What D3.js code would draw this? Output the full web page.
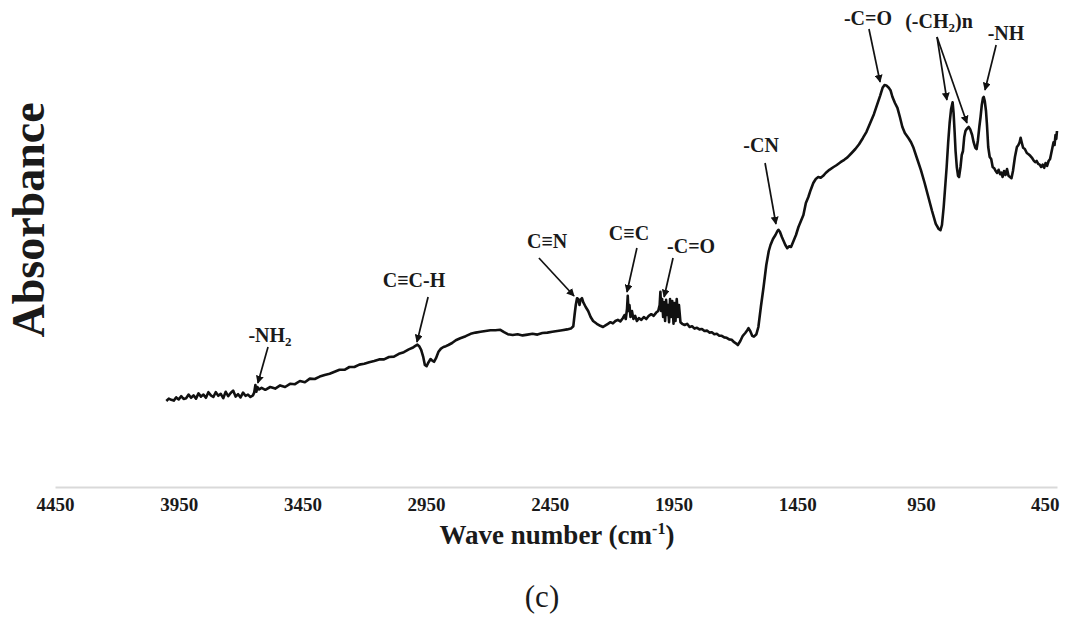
<!DOCTYPE html>
<html>
<head>
<meta charset="utf-8">
<script src="https://cdn.jsdelivr.net/npm/d3@7"></script>
<style>
  html, body { margin: 0; padding: 0; background: #fff; }
  svg { display: block; }
  text { font-family: "Liberation Serif", "Times New Roman", serif; fill: #1a1a1a; }
</style>
</head>
<body>
<script>
// FTIR spectrum: wavenumber (cm-1) and absorbance (a.u.)
const wavenumber = [
  4000,3990,3980,3970,3960,3950,3940,3930,3920,3910,3900,3890,3880,3870,3860,3850,3840,3830,3820,3810,
  3800,3790,3780,3770,3760,3750,3740,3730,3720,3710,3700,3690,3680,3670,3660,3650,3645,3640,3636,3632,
  3625,3615,3600,3580,3560,3540,3520,3500,3480,3460,3440,3420,3400,3380,3360,3340,3320,3300,3280,3260,
  3240,3220,3200,3180,3160,3140,3120,3100,3080,3060,3040,3020,3005,2995,2985,2978,2970,2962,2955,2948,
  2940,2932,2925,2918,2910,2900,2890,2880,2870,2860,2845,2830,2812,2790,2770,2750,2730,2710,2690,2670,
  2650,2635,2620,2600,2580,2560,2540,2520,2500,2480,2460,2440,2420,2400,2380,2365,2355,2350,2345,2340,
  2335,2330,2326,2320,2315,2305,2295,2285,2275,2260,2246,2235,2225,2215,2205,2195,2185,2175,2165,2155,
  2148,2143,2138,2135,2132,2128,2124,2118,2112,2105,2098,2090,2080,2070,2060,2050,2040,2030,2020,2012,
  2006,2003,2000,1996,1992,1988,1984,1980,1976,1972,1968,1964,1960,1955,1950,1946,1942,1937,1932,1928,
  1922,1915,1905,1895,1885,1875,1865,1855,1845,1835,1825,1815,1805,1795,1785,1775,1765,1755,1745,1735,
  1725,1715,1705,1695,1690,1680,1670,1660,1652,1647,1640,1632,1625,1615,1607,1597,1586,1575,1565,1558,
  1548,1538,1530,1526,1520,1512,1505,1498,1490,1482,1475,1465,1455,1445,1435,1425,1415,1405,1396,1385,
  1375,1365,1355,1345,1335,1320,1303,1290,1275,1260,1247,1230,1215,1200,1185,1170,1155,1140,1126,1115,
  1105,1097,1090,1080,1073,1065,1055,1045,1035,1025,1015,1000,990,980,965,950,935,920,905,890,
  878,871,865,858,852,846,840,834,828,822,818,814,810,805,800,796,790,785,780,775,
  770,765,757,750,743,737,730,725,720,714,709,704,699,696,692,687,683,678,672,666,
  660,654,648,642,636,630,625,620,614,608,602,596,590,584,578,570,562,556,551,547,
  542,537,530,522,515,508,500,494,488,482,476,470,464,458,452,446,440,434,428,423,
  418,414,410,406,403,400
];
const absorbance = [
  0.215,0.221,0.218,0.216,0.224,0.219,0.227,0.220,0.222,0.231,0.223,0.229,0.221,0.234,0.226,0.231,0.223,0.237,0.229,0.225,
  0.237,0.228,0.233,0.222,0.238,0.227,0.235,0.241,0.226,0.232,0.224,0.236,0.228,0.231,0.225,0.229,0.236,0.255,0.238,0.250,
  0.244,0.248,0.243,0.250,0.246,0.254,0.250,0.258,0.257,0.265,0.262,0.271,0.270,0.276,0.280,0.283,0.288,0.293,0.293,0.300,
  0.300,0.306,0.308,0.312,0.315,0.319,0.319,0.325,0.326,0.333,0.337,0.344,0.348,0.352,0.356,0.352,0.343,0.326,0.305,0.302,
  0.312,0.320,0.316,0.313,0.322,0.338,0.346,0.350,0.352,0.355,0.360,0.367,0.372,0.377,0.383,0.386,0.388,0.390,0.392,0.392,
  0.393,0.387,0.382,0.380,0.382,0.379,0.381,0.383,0.381,0.385,0.386,0.388,0.390,0.392,0.394,0.396,0.402,0.430,0.455,0.472,
  0.470,0.455,0.468,0.472,0.462,0.450,0.440,0.425,0.415,0.408,0.403,0.400,0.404,0.408,0.412,0.409,0.415,0.418,0.414,0.422,
  0.430,0.420,0.445,0.478,0.440,0.455,0.425,0.440,0.420,0.428,0.415,0.422,0.418,0.425,0.420,0.428,0.432,0.428,0.436,0.440,
  0.455,0.488,0.440,0.470,0.425,0.462,0.415,0.468,0.430,0.455,0.412,0.470,0.425,0.465,0.408,0.460,0.415,0.470,0.425,0.455,
  0.412,0.408,0.405,0.408,0.400,0.402,0.396,0.398,0.394,0.395,0.390,0.391,0.386,0.387,0.382,0.383,0.378,0.378,0.374,0.373,
  0.369,0.368,0.362,0.358,0.355,0.365,0.378,0.385,0.392,0.397,0.390,0.378,0.376,0.382,0.400,0.450,0.500,0.555,0.590,0.605,
  0.620,0.630,0.640,0.643,0.638,0.625,0.615,0.605,0.597,0.602,0.600,0.615,0.630,0.650,0.665,0.680,0.710,0.725,0.742,0.760,
  0.770,0.775,0.773,0.778,0.785,0.793,0.800,0.805,0.812,0.818,0.824,0.835,0.845,0.857,0.872,0.888,0.910,0.932,0.958,0.978,
  0.998,1.005,1.004,0.998,0.992,0.975,0.960,0.948,0.925,0.900,0.885,0.872,0.862,0.848,0.820,0.792,0.760,0.725,0.690,0.658,
  0.645,0.642,0.655,0.700,0.750,0.800,0.860,0.910,0.945,0.962,0.935,0.890,0.840,0.800,0.778,0.775,0.800,0.830,0.840,0.875,
  0.890,0.895,0.900,0.893,0.880,0.862,0.848,0.845,0.865,0.900,0.925,0.955,0.973,0.975,0.965,0.940,0.905,0.850,0.825,0.820,
  0.800,0.797,0.790,0.785,0.793,0.782,0.786,0.775,0.790,0.780,0.795,0.778,0.775,0.772,0.790,0.825,0.850,0.855,0.862,0.873,
  0.860,0.848,0.845,0.835,0.832,0.828,0.822,0.816,0.812,0.815,0.808,0.806,0.800,0.806,0.798,0.810,0.803,0.815,0.820,0.835,
  0.850,0.862,0.855,0.880,0.870,0.890
];

// x-axis tick labels (cm-1)
const tickValues = [4450, 3950, 3450, 2950, 2450, 1950, 1450, 950, 450];

// band assignments: label position and arrow tips in data units
const annotations = [
  { parts: [["-NH", 0], ["2", 1]], lx: 3581, ly: 0.3625, tail: [3589, 0.350], tips: [[3630, 0.260]] },
  { parts: [["C\u2261C-H", 0]], lx: 2999, ly: 0.500, tail: [2942, 0.475], tips: [[2987, 0.3625]] },
  { parts: [["C\u2261N", 0]], lx: 2461, ly: 0.5975, tail: [2494, 0.5725], tips: [[2352, 0.4775]] },
  { parts: [["C\u2261C", 0]], lx: 2130, ly: 0.6175, tail: [2098, 0.5975], tips: [[2138, 0.4875]] },
  { parts: [["-C=O", 0]], lx: 1879, ly: 0.585, tail: [1952, 0.5725], tips: [[1988, 0.475]] },
  { parts: [["-CN", 0]], lx: 1596, ly: 0.8375, tail: [1580, 0.810], tips: [[1536, 0.6575]] },
  { parts: [["-C=O", 0]], lx: 1164, ly: 1.155, tail: [1160, 1.145], tips: [[1115, 1.0125]] },
  { parts: [["(-CH", 0], ["2", 1], [")n", 0]], lx: 877, ly: 1.1475, tail: [885, 1.125], tips: [[845, 0.9675], [764, 0.910]] },
  { parts: [["-NH", 0]], lx: 606, ly: 1.1175, tail: [646, 1.105], tips: [[691, 0.9925]] }
];

const width = 1078, height = 617;
const svg = d3.select("body").append("svg")
  .attr("width", width).attr("height", height);

const x = d3.scaleLinear().domain([4450, 400]).range([55, 1057]);
const y = d3.scaleLinear().domain([0, 1.2]).range([487, 7]);

// x axis: light grey baseline, bold serif labels, no tick marks
const xAxis = svg.append("g")
  .attr("transform", `translate(0,${y(0)})`)
  .call(d3.axisBottom(x).tickValues(tickValues).tickSize(0).tickPadding(11).tickFormat(d3.format("d")));
xAxis.select(".domain").attr("stroke", "#d9d9d9").attr("stroke-width", 2);
xAxis.selectAll("text")
  .attr("font-family", "'Liberation Serif', 'Times New Roman', serif")
  .attr("font-weight", "bold").attr("font-size", 19).attr("fill", "#1a1a1a");

// spectrum trace
const pts = wavenumber.map((w, i) => [w, absorbance[i]]);
svg.append("path")
  .datum(pts)
  .attr("fill", "none")
  .attr("stroke", "#111")
  .attr("stroke-width", 2.6)
  .attr("stroke-linejoin", "round")
  .attr("d", d3.line().x(d => x(d[0])).y(d => y(d[1])));

// arrow heads
svg.append("defs").append("marker")
  .attr("id", "head")
  .attr("viewBox", "0 0 10 10")
  .attr("refX", 9).attr("refY", 5)
  .attr("markerWidth", 8).attr("markerHeight", 8)
  .attr("markerUnits", "userSpaceOnUse")
  .attr("orient", "auto")
  .append("path").attr("d", "M0,0 L10,5 L0,10 Z").attr("fill", "#111");

const ann = svg.append("g");
annotations.forEach(a => {
  const t = ann.append("text")
    .attr("x", x(a.lx)).attr("y", y(a.ly))
    .attr("text-anchor", "middle")
    .attr("font-weight", "bold").attr("font-size", 20);
  a.parts.forEach(([s, sub]) => {
    const ts = t.append("tspan").text(s);
    if (sub) ts.attr("font-size", 13).attr("dy", 4);
    else if (t.selectAll("tspan").size() > 1) ts.attr("dy", -4);
  });
  a.tips.forEach(tip => {
    ann.append("line")
      .attr("x1", x(a.tail[0])).attr("y1", y(a.tail[1]))
      .attr("x2", x(tip[0])).attr("y2", y(tip[1]))
      .attr("stroke", "#111").attr("stroke-width", 1.7)
      .attr("marker-end", "url(#head)");
  });
});

// axis titles
const xt = svg.append("text")
  .attr("x", (x(4450) + x(400)) / 2 + 1).attr("y", 544)
  .attr("text-anchor", "middle")
  .attr("font-weight", "bold").attr("font-size", 27);
xt.append("tspan").text("Wave number (cm");
xt.append("tspan").text("-1").attr("font-size", 16).attr("dy", -10);
xt.append("tspan").text(")").attr("dy", 10);

svg.append("text")
  .attr("transform", "translate(44,220) rotate(-90)")
  .attr("text-anchor", "middle")
  .attr("font-weight", "bold").attr("font-size", 46)
  .text("Absorbance");

svg.append("text")
  .attr("x", 542).attr("y", 607)
  .attr("text-anchor", "middle")
  .attr("font-size", 31)
  .text("(c)");
</script>
</body>
</html>
